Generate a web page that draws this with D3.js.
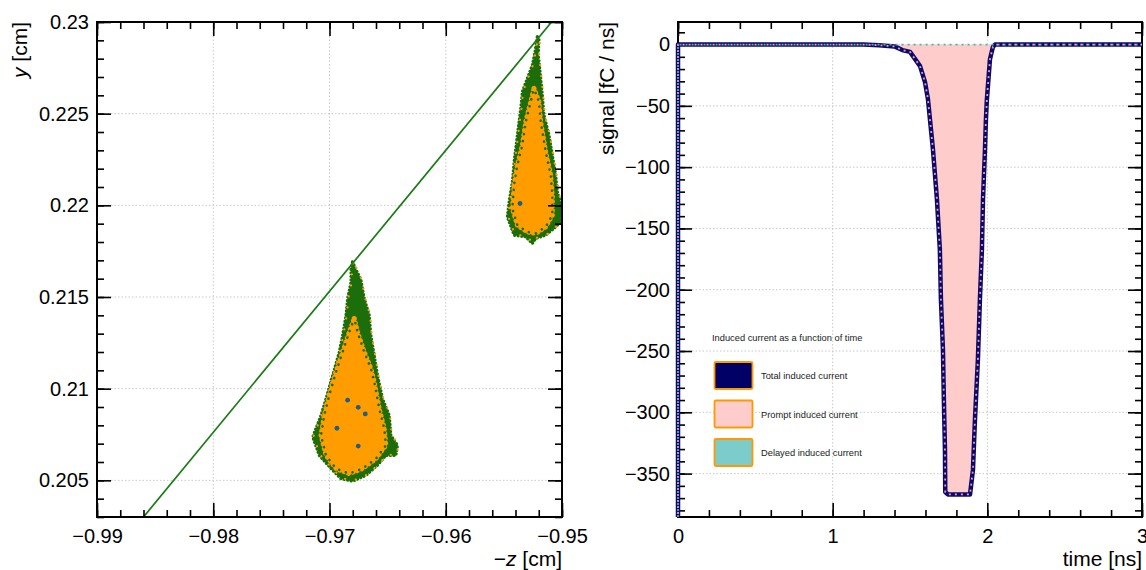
<!DOCTYPE html>
<html>
<head>
<meta charset="utf-8">
<script src="https://cdn.jsdelivr.net/npm/d3@7"></script>
<style>
  html, body { margin: 0; padding: 0; background: #fff; }
  svg { display: block; font-family: "Liberation Sans", Arial, Helvetica, sans-serif; }
</style>
</head>
<body>
<svg id="chart" width="1146" height="570"></svg>
<script>
// ---------- left panel: electron positions in the (−z, y) plane ----------
const zTicks = [-0.99, -0.98, -0.97, -0.96, -0.95];
const zTickLabels = ["\u22120.99", "\u22120.98", "\u22120.97", "\u22120.96", "\u22120.95"];
const yTicks = [0.205, 0.21, 0.215, 0.22, 0.225, 0.23];
const yTickLabels = ["0.205", "0.21", "0.215", "0.22", "0.225", "0.23"];

// primary ionisation track (end points)
const trackZ = [-0.9860, -0.9509];
const trackY = [0.2030, 0.2300];

// lower avalanche: outer envelope of the drifted electrons
const cloud1Outer = [
  [-0.96802, 0.21692], [-0.96729, 0.21592], [-0.96701, 0.21492], [-0.96658, 0.21401],
  [-0.96644, 0.21292], [-0.96615, 0.21182], [-0.96587, 0.21073], [-0.96544, 0.20946],
  [-0.96486, 0.20855], [-0.96472, 0.20746], [-0.96415, 0.20691], [-0.96429, 0.20636],
  [-0.96515, 0.20636], [-0.96587, 0.20582], [-0.96686, 0.20527], [-0.96802, 0.20495],
  [-0.96901, 0.20509], [-0.96987, 0.20564], [-0.97088, 0.20636], [-0.97145, 0.20736],
  [-0.97073, 0.20855], [-0.97030, 0.20946], [-0.96973, 0.21073], [-0.96916, 0.21200],
  [-0.96887, 0.21292], [-0.96858, 0.21401], [-0.96844, 0.21492], [-0.96815, 0.21582],
  [-0.96815, 0.21656]
];
// lower avalanche: dense core of end points
const cloud1Core = [
  [-0.96787, 0.21383], [-0.96759, 0.21309], [-0.96701, 0.21200], [-0.96644, 0.21110],
  [-0.96615, 0.21037], [-0.96572, 0.20891], [-0.96529, 0.20782], [-0.96515, 0.20691],
  [-0.96601, 0.20618], [-0.96716, 0.20564], [-0.96830, 0.20537], [-0.96944, 0.20564],
  [-0.97030, 0.20636], [-0.97073, 0.20746], [-0.97045, 0.20855], [-0.97002, 0.20964],
  [-0.96944, 0.21091], [-0.96887, 0.21200], [-0.96830, 0.21309]
];
// upper avalanche
const cloud2Outer = [
  [-0.95212, 0.22920], [-0.95198, 0.22902], [-0.95204, 0.22820], [-0.95183, 0.22693],
  [-0.95169, 0.22602], [-0.95155, 0.22492], [-0.95112, 0.22383], [-0.95083, 0.22274],
  [-0.95054, 0.22165], [-0.95040, 0.22074], [-0.94997, 0.21983], [-0.95011, 0.21910],
  [-0.95069, 0.21874], [-0.95140, 0.21837], [-0.95226, 0.21819], [-0.95255, 0.21792],
  [-0.95312, 0.21828], [-0.95412, 0.21837], [-0.95470, 0.21937], [-0.95455, 0.22019],
  [-0.95427, 0.22128], [-0.95412, 0.22237], [-0.95384, 0.22383], [-0.95355, 0.22529],
  [-0.95341, 0.22620], [-0.95298, 0.22693], [-0.95255, 0.22765], [-0.95232, 0.22838]
];
const cloud2Core = [
  [-0.95241, 0.22638], [-0.95198, 0.22565], [-0.95183, 0.22456], [-0.95140, 0.22292],
  [-0.95097, 0.22165], [-0.95083, 0.22056], [-0.95083, 0.21947], [-0.95140, 0.21883],
  [-0.95226, 0.21847], [-0.95298, 0.21855], [-0.95384, 0.21892], [-0.95427, 0.21983],
  [-0.95412, 0.22110], [-0.95384, 0.22219], [-0.95341, 0.22329], [-0.95312, 0.22456],
  [-0.95269, 0.22565]
];
// ions left behind (blue markers)
const ionZ = [-0.96844, -0.96753, -0.96692, -0.96936, -0.96753, -0.95361];
const ionY = [0.20937, 0.20898, 0.20862, 0.20784, 0.20687, 0.22010];

// ---------- right panel: induced current ----------
const timeTicks = [0, 1, 2, 3];
const signalTicks = [0, -50, -100, -150, -200, -250, -300, -350];
const timeNs = [0, 1.20, 1.30, 1.40, 1.45, 1.50, 1.565, 1.597, 1.616, 1.648, 1.674, 1.693,
  1.700, 1.713, 1.719, 1.726, 1.728, 1.745, 1.888, 1.907, 1.920, 1.939, 1.952, 1.965,
  1.972, 1.985, 1.991, 1.997, 2.017, 2.036, 2.050, 3.0];
const totalSignal = [0, 0, -0.5, -1.5, -4.5, -6, -17.6, -30.6, -44.5, -85, -126, -167,
  -208, -249, -290, -330, -365, -367, -367, -347, -306, -257, -208, -167,
  -126, -85, -61, -45, -12, -2, 0, 0];
const promptSignal = totalSignal.slice();
const delayedSignal = timeNs.map(() => 0);

const legendTitle = "Induced current as a function of time";
const legendLabels = ["Total induced current", "Prompt induced current", "Delayed induced current"];
const legendFills = ["#000066", "#ffcccc", "#7ccccc"];

// ---------- drawing ----------
const svg = d3.select("#chart");
const GREEN = "#1b6e0a";
const ORANGE = "#ff9c00";
const FONT = 20;

const L = { x0: 97, x1: 562, y0: 22, y1: 517 };
const R = { x0: 678, x1: 1142, y0: 22, y1: 517 };

const xL = d3.scaleLinear([-0.99, -0.95], [L.x0, L.x1]);
const yL = d3.scaleLinear([0.203, 0.23], [L.y1, L.y0]);
const xR = d3.scaleLinear([0, 3], [R.x0, R.x1]);
const yR = d3.scaleLinear([-385.4, 18.4], [R.y1, R.y0]);

const defs = svg.append("defs");
defs.append("clipPath").attr("id", "clipL").append("rect")
  .attr("x", L.x0).attr("y", L.y0).attr("width", L.x1 - L.x0).attr("height", L.y1 - L.y0);
defs.append("clipPath").attr("id", "clipR").append("rect")
  .attr("x", R.x0 - 3).attr("y", R.y0).attr("width", R.x1 - R.x0 + 3).attr("height", R.y1 - R.y0);

function grid(P, xs, ys, xT, yT) {
  const g = svg.append("g").attr("stroke", "#c8c8c8").attr("stroke-width", 1)
    .attr("stroke-dasharray", "1.5 2");
  xT.forEach(v => {
    const px = xs(v);
    if (px > P.x0 + 2 && px < P.x1 - 2)
      g.append("line").attr("x1", px).attr("x2", px).attr("y1", P.y0).attr("y2", P.y1);
  });
  yT.forEach(v => {
    const py = ys(v);
    if (py > P.y0 + 2 && py < P.y1 - 2)
      g.append("line").attr("x1", P.x0).attr("x2", P.x1).attr("y1", py).attr("y2", py);
  });
}

function frameAndAxes(P, xs, ys, xT, xLab, yT, yLab, xMinorN, yMinorN) {
  const styleAxis = g => {
    g.select(".domain").remove();
    g.selectAll("line").attr("stroke", "#000").attr("stroke-width", 1.6);
    g.selectAll("text").attr("font-size", FONT).attr("fill", "#000")
      .attr("font-family", "'Liberation Sans', Arial, sans-serif");
  };
  const xMinor = xs.ticks(xMinorN), yMinor = ys.ticks(yMinorN);
  // bottom
  svg.append("g").attr("transform", `translate(0,${P.y1})`)
    .call(d3.axisBottom(xs).tickValues(xT).tickSizeInner(-14).tickSizeOuter(0)
      .tickPadding(12).tickFormat((d, i) => xLab[i])).call(styleAxis);
  svg.append("g").attr("transform", `translate(0,${P.y1})`)
    .call(d3.axisBottom(xs).tickValues(xMinor).tickSizeInner(-7).tickSizeOuter(0).tickFormat(""))
    .call(styleAxis);
  // top
  svg.append("g").attr("transform", `translate(0,${P.y0})`)
    .call(d3.axisTop(xs).tickValues(xT).tickSizeInner(-14).tickSizeOuter(0).tickFormat(""))
    .call(styleAxis);
  svg.append("g").attr("transform", `translate(0,${P.y0})`)
    .call(d3.axisTop(xs).tickValues(xMinor).tickSizeInner(-7).tickSizeOuter(0).tickFormat(""))
    .call(styleAxis);
  // left
  svg.append("g").attr("transform", `translate(${P.x0},0)`)
    .call(d3.axisLeft(ys).tickValues(yT).tickSizeInner(-14).tickSizeOuter(0)
      .tickPadding(8).tickFormat((d, i) => yLab[i])).call(styleAxis);
  svg.append("g").attr("transform", `translate(${P.x0},0)`)
    .call(d3.axisLeft(ys).tickValues(yMinor).tickSizeInner(-7).tickSizeOuter(0).tickFormat(""))
    .call(styleAxis);
  // right
  svg.append("g").attr("transform", `translate(${P.x1},0)`)
    .call(d3.axisRight(ys).tickValues(yT).tickSizeInner(-14).tickSizeOuter(0).tickFormat(""))
    .call(styleAxis);
  svg.append("g").attr("transform", `translate(${P.x1},0)`)
    .call(d3.axisRight(ys).tickValues(yMinor).tickSizeInner(-7).tickSizeOuter(0).tickFormat(""))
    .call(styleAxis);
  // frame
  svg.append("rect").attr("x", P.x0).attr("y", P.y0)
    .attr("width", P.x1 - P.x0).attr("height", P.y1 - P.y0)
    .attr("fill", "none").attr("stroke", "#000").attr("stroke-width", 2);
}

// ----- left panel -----
grid(L, xL, yL, zTicks, yTicks);

const gL = svg.append("g").attr("clip-path", "url(#clipL)");
const closed = d3.line().x(d => xL(d[0])).y(d => yL(d[1])).curve(d3.curveLinearClosed);

// each avalanche: green envelope, orange core, speckled borders between them
[[cloud1Outer, cloud1Core], [cloud2Outer, cloud2Core]].forEach(([outer, core]) => {
  gL.append("path").attr("d", closed(outer)).attr("fill", GREEN)
    .attr("stroke", GREEN).attr("stroke-width", 3.2).attr("stroke-linecap", "round")
    .attr("stroke-dasharray", "0.1 3.4");
  gL.append("path").attr("d", closed(outer)).attr("fill", "none")
    .attr("stroke", ORANGE).attr("stroke-width", 2.2).attr("stroke-linecap", "round")
    .attr("stroke-dasharray", "0.1 11").attr("stroke-dashoffset", 4)
    .attr("transform", "translate(0.8,-0.6)");
  gL.append("path").attr("d", closed(core)).attr("fill", ORANGE)
    .attr("stroke", ORANGE).attr("stroke-width", 5).attr("stroke-linecap", "round")
    .attr("stroke-dasharray", "0.1 4.5");
  gL.append("path").attr("d", closed(core)).attr("fill", "none")
    .attr("stroke", GREEN).attr("stroke-width", 2.6).attr("stroke-linecap", "round")
    .attr("stroke-dasharray", "0.1 7").attr("stroke-dashoffset", 2.3);
});

gL.append("line")
  .attr("x1", xL(trackZ[0])).attr("y1", yL(trackY[0]))
  .attr("x2", xL(trackZ[1])).attr("y2", yL(trackY[1]))
  .attr("stroke", "#1a7a14").attr("stroke-width", 1.7);

gL.selectAll("circle.ion").data(ionZ).join("circle").attr("class", "ion")
  .attr("cx", d => xL(d)).attr("cy", (d, i) => yL(ionY[i])).attr("r", 2.4)
  .attr("fill", "#1f5f82");

frameAndAxes(L, xL, yL, zTicks, zTickLabels, yTicks, yTickLabels, 20, 27);

svg.append("text").attr("x", L.x1).attr("y", 566).attr("text-anchor", "end")
  .attr("font-size", 21)
  .call(t => { t.append("tspan").text("\u2212"); t.append("tspan").attr("font-style", "italic").text("z"); t.append("tspan").text(" [cm]"); });
svg.append("text").attr("transform", `translate(27,${L.y0}) rotate(-90)`).attr("text-anchor", "end")
  .attr("font-size", 21)
  .call(t => { t.append("tspan").attr("font-style", "italic").text("y"); t.append("tspan").text(" [cm]"); });

// ----- right panel -----
grid(R, xR, yR, timeTicks, signalTicks);

const rows = timeNs.map((t, i) => ({ t, total: totalSignal[i], prompt: promptSignal[i], delayed: delayedSignal[i] }));
const yBottom = yR.domain()[0];

const gR = svg.append("g").attr("clip-path", "url(#clipR)");
gR.append("path").datum(rows)
  .attr("d", d3.area().x(d => xR(d.t)).y0(yR(0)).y1(d => yR(d.prompt)))
  .attr("fill", "#ffcccc");

frameAndAxes(R, xR, yR, timeTicks, timeTicks.map(String),
  signalTicks, signalTicks.map(v => v < 0 ? "\u2212" + Math.abs(v) : String(v)), 15, 40);

const gR2 = svg.append("g").attr("clip-path", "url(#clipR)");
const seriesLine = key => d3.line().x(d => xR(d.t)).y(d => yR(d[key]))(
  [{ t: 0, total: yBottom, prompt: yBottom, delayed: yBottom }].concat(rows));

gR2.append("path").attr("d", seriesLine("total")).attr("fill", "none")
  .attr("stroke", "#0a0a6e").attr("stroke-width", 4.5).attr("stroke-linejoin", "round");
gR2.append("path").attr("d", seriesLine("delayed")).attr("fill", "none")
  .attr("stroke", "#45b8a8").attr("stroke-width", 1.8).attr("stroke-dasharray", "2 4");
gR2.append("path").attr("d", seriesLine("prompt")).attr("fill", "none")
  .attr("stroke", "#f39a9a").attr("stroke-width", 1.8).attr("stroke-dasharray", "2 4")
  .attr("stroke-dashoffset", 3);

svg.append("text").attr("x", R.x1).attr("y", 566).attr("text-anchor", "end")
  .attr("font-size", 21).text("time [ns]");
svg.append("text").attr("transform", `translate(614,${R.y0}) rotate(-90)`).attr("text-anchor", "end")
  .attr("font-size", 21).text("signal [fC / ns]");

// legend
const lg = svg.append("g").attr("font-size", 9.3).attr("fill", "#222");
lg.append("text").attr("x", 712).attr("y", 341).text(legendTitle);
legendLabels.forEach((lab, i) => {
  const top = 362 + i * 38.5;
  lg.append("rect").attr("x", 714.5).attr("y", top).attr("width", 38).attr("height", 27)
    .attr("rx", 1.5).attr("fill", legendFills[i]).attr("stroke", "#ff9900").attr("stroke-width", 1.8);
  lg.append("text").attr("x", 761).attr("y", top + 14).attr("dy", "0.35em").text(lab);
});
</script>
</body>
</html>
